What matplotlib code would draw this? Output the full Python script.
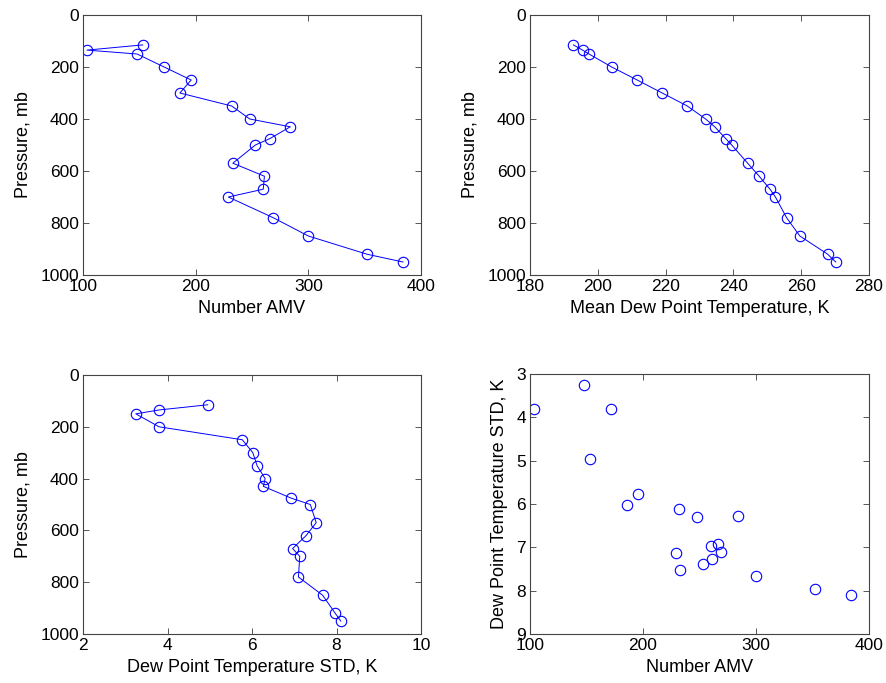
import matplotlib
matplotlib.use("Agg")
import matplotlib.pyplot as plt

plt.rcParams['font.family'] = ['Liberation Sans', 'DejaVu Sans']

pressure = [115, 135, 150, 200, 250, 300, 350, 400, 430, 475, 500, 570, 620, 670, 700, 780, 850, 920, 950]
number_amv = [153, 103.5, 148, 172, 196, 186, 232, 248, 284, 266, 253, 233, 261, 260, 229, 269, 300, 352, 384]
mean_dewpoint = [192.8, 195.5, 197.4, 204.1, 211.6, 219.0, 226.4, 231.8, 234.5, 237.7, 239.5, 244.2,
                 247.6, 250.8, 252.4, 255.7, 259.6, 267.8, 270.2]
dewpoint_std = [4.95, 3.8, 3.25, 3.8, 5.77, 6.02, 6.12, 6.31, 6.27, 6.92, 7.38, 7.52, 7.28, 6.96,
                7.13, 7.1, 7.67, 7.97, 8.1]

W, H = 886, 683
fig = plt.figure(figsize=(W / 100, H / 100), dpi=100)

def add_ax(left, right, top, bottom):
    return fig.add_axes([left / W, 1 - bottom / H, (right - left) / W, (bottom - top) / H])

ax1 = add_ax(83, 421, 15, 275)
ax2 = add_ax(530, 869, 15, 275)
ax3 = add_ax(83, 421, 375, 634)
ax4 = add_ax(530, 869, 374, 634)

blue = '#0000ff'
lkw = dict(color=blue, lw=0.7, marker='o', ms=7.5, mfc='none', mec=blue, mew=0.8)

ax1.plot(number_amv, pressure, **lkw)
ax2.plot(mean_dewpoint, pressure, **lkw)
ax3.plot(dewpoint_std, pressure, **lkw)
ax4.plot(number_amv, dewpoint_std, linestyle='none', marker='o', ms=7.5, mfc='none', mec=blue, mew=0.8)

ax1.set_xlim(100, 400); ax1.set_xticks([100, 200, 300, 400])
ax2.set_xlim(180, 280); ax2.set_xticks([180, 200, 220, 240, 260, 280])
ax3.set_xlim(2, 10); ax3.set_xticks([2, 4, 6, 8, 10])
for ax in (ax1, ax2, ax3):
    ax.set_ylim(1000, 0)
    ax.set_yticks([0, 200, 400, 600, 800, 1000])
    ax.set_ylabel('Pressure, mb', fontsize=13)
ax4.set_xlim(100, 400); ax4.set_xticks([100, 200, 300, 400])
ax4.set_ylim(9, 3); ax4.set_yticks([3, 4, 5, 6, 7, 8, 9])
ax4.set_ylabel('Dew Point Temperature STD, K', fontsize=13)

ax1.set_xlabel('Number AMV', fontsize=13)
ax2.set_xlabel('Mean Dew Point Temperature, K', fontsize=13)
ax3.set_xlabel('Dew Point Temperature STD, K', fontsize=13)
ax4.set_xlabel('Number AMV', fontsize=13)

for ax in (ax1, ax2, ax3, ax4):
    ax.tick_params(direction='in', top=True, right=True, length=4, width=0.7,
                   color='#555555', labelsize=12.5, pad=3)
    for s in ax.spines.values():
        s.set_color('#444444')
        s.set_linewidth(0.8)
    ax.xaxis.labelpad = 4
    ax.yaxis.labelpad = 6

fig.savefig('out.png', dpi=100)
